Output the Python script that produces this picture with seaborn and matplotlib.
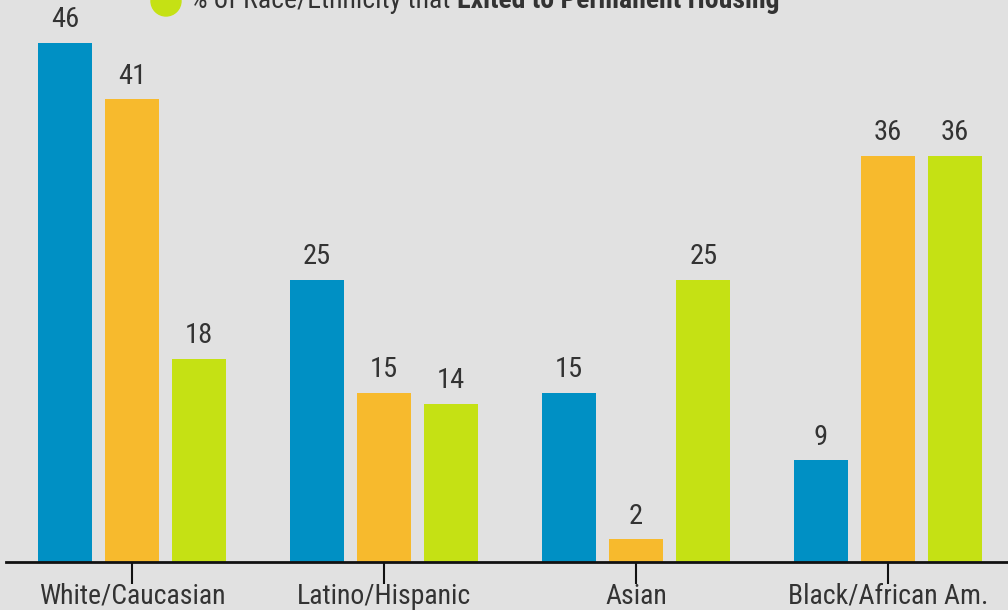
import matplotlib
matplotlib.use("Agg")
import matplotlib.pyplot as plt
import seaborn as sns
import pandas as pd
from matplotlib import font_manager as fm

categories = ["White/Caucasian", "Latino/Hispanic", "Asian", "Black/African Am."]
series_names = ["% of Race/Ethnicity in Population",
                "% of Race/Ethnicity Experiencing Homelessness",
                "% of Race/Ethnicity that Exited to Permanent Housing"]
population = [46, 25, 15, 9]
homeless = [41, 15, 2, 36]
exited = [18, 14, 25, 36]
colors = ["#0090C4", "#F7BA2D", "#C5E114"]

sns.set_theme(style="white")
fams = [f.name for f in fm.fontManager.ttflist]
cands = ["Roboto Condensed", "Liberation Sans Narrow", "Roboto", "DejaVu Sans"]
font_list = [c for c in cands if c in fams] or ["DejaVu Sans"]
plt.rcParams["font.family"] = font_list

bg = "#E1E1E1"
txt = "#333333"

rows = []
for i, c in enumerate(categories):
    for s, vals in zip(series_names, [population, homeless, exited]):
        rows.append({"cat": c, "series": s, "value": vals[i]})
df = pd.DataFrame(rows)

fig = plt.figure(figsize=(10.08, 6.10), dpi=100, facecolor=bg)
ax = fig.add_axes([0, 48 / 610, 1, 562 / 610])
ax.set_facecolor(bg)

sns.barplot(data=df, x="cat", y="value", hue="series", palette=colors,
            order=categories, hue_order=series_names, width=0.8, gap=0.2,
            saturation=1, legend=False, ax=ax, errorbar=None, linewidth=0)

for cont in ax.containers:
    ax.bar_label(cont, fmt="%d", padding=7, fontsize=20.5, color=txt)

ax.set_xlim(-0.524, 3.476)
ax.set_ylim(0, 49.8)
ax.set_xlabel("")
ax.set_ylabel("")
ax.set_yticks([])
for s in ["top", "right", "left"]:
    ax.spines[s].set_visible(False)
ax.spines["bottom"].set_color("#111111")
ax.spines["bottom"].set_linewidth(2)
ax.spines["bottom"].set_bounds(-0.5, 3.476)
ax.tick_params(axis="x", length=16, width=1.5, color="#111111",
               labelsize=20, labelcolor=txt, pad=-1, bottom=True)

# partially visible legend entry at the top edge
fig.add_artist(matplotlib.patches.Ellipse((166 / 1008, 1 - 1 / 610), 30 / 1008, 30 / 610,
                                          transform=fig.transFigure, color=colors[2],
                                          clip_on=False))
t1 = fig.text(190 / 1008, 1 - 8 / 610, "% of Race/Ethnicity that ", fontsize=20,
              color=txt, va="baseline", ha="left")
fig.canvas.draw()
r = fig.canvas.get_renderer()
bb = t1.get_window_extent(r)
fig.text(bb.x1 / fig.bbox.width, 1 - 8 / 610, "Exited to Permanent Housing",
         fontsize=20, fontweight="bold", color=txt, va="baseline", ha="left")

fig.savefig("out.png", dpi=100, facecolor=bg)
